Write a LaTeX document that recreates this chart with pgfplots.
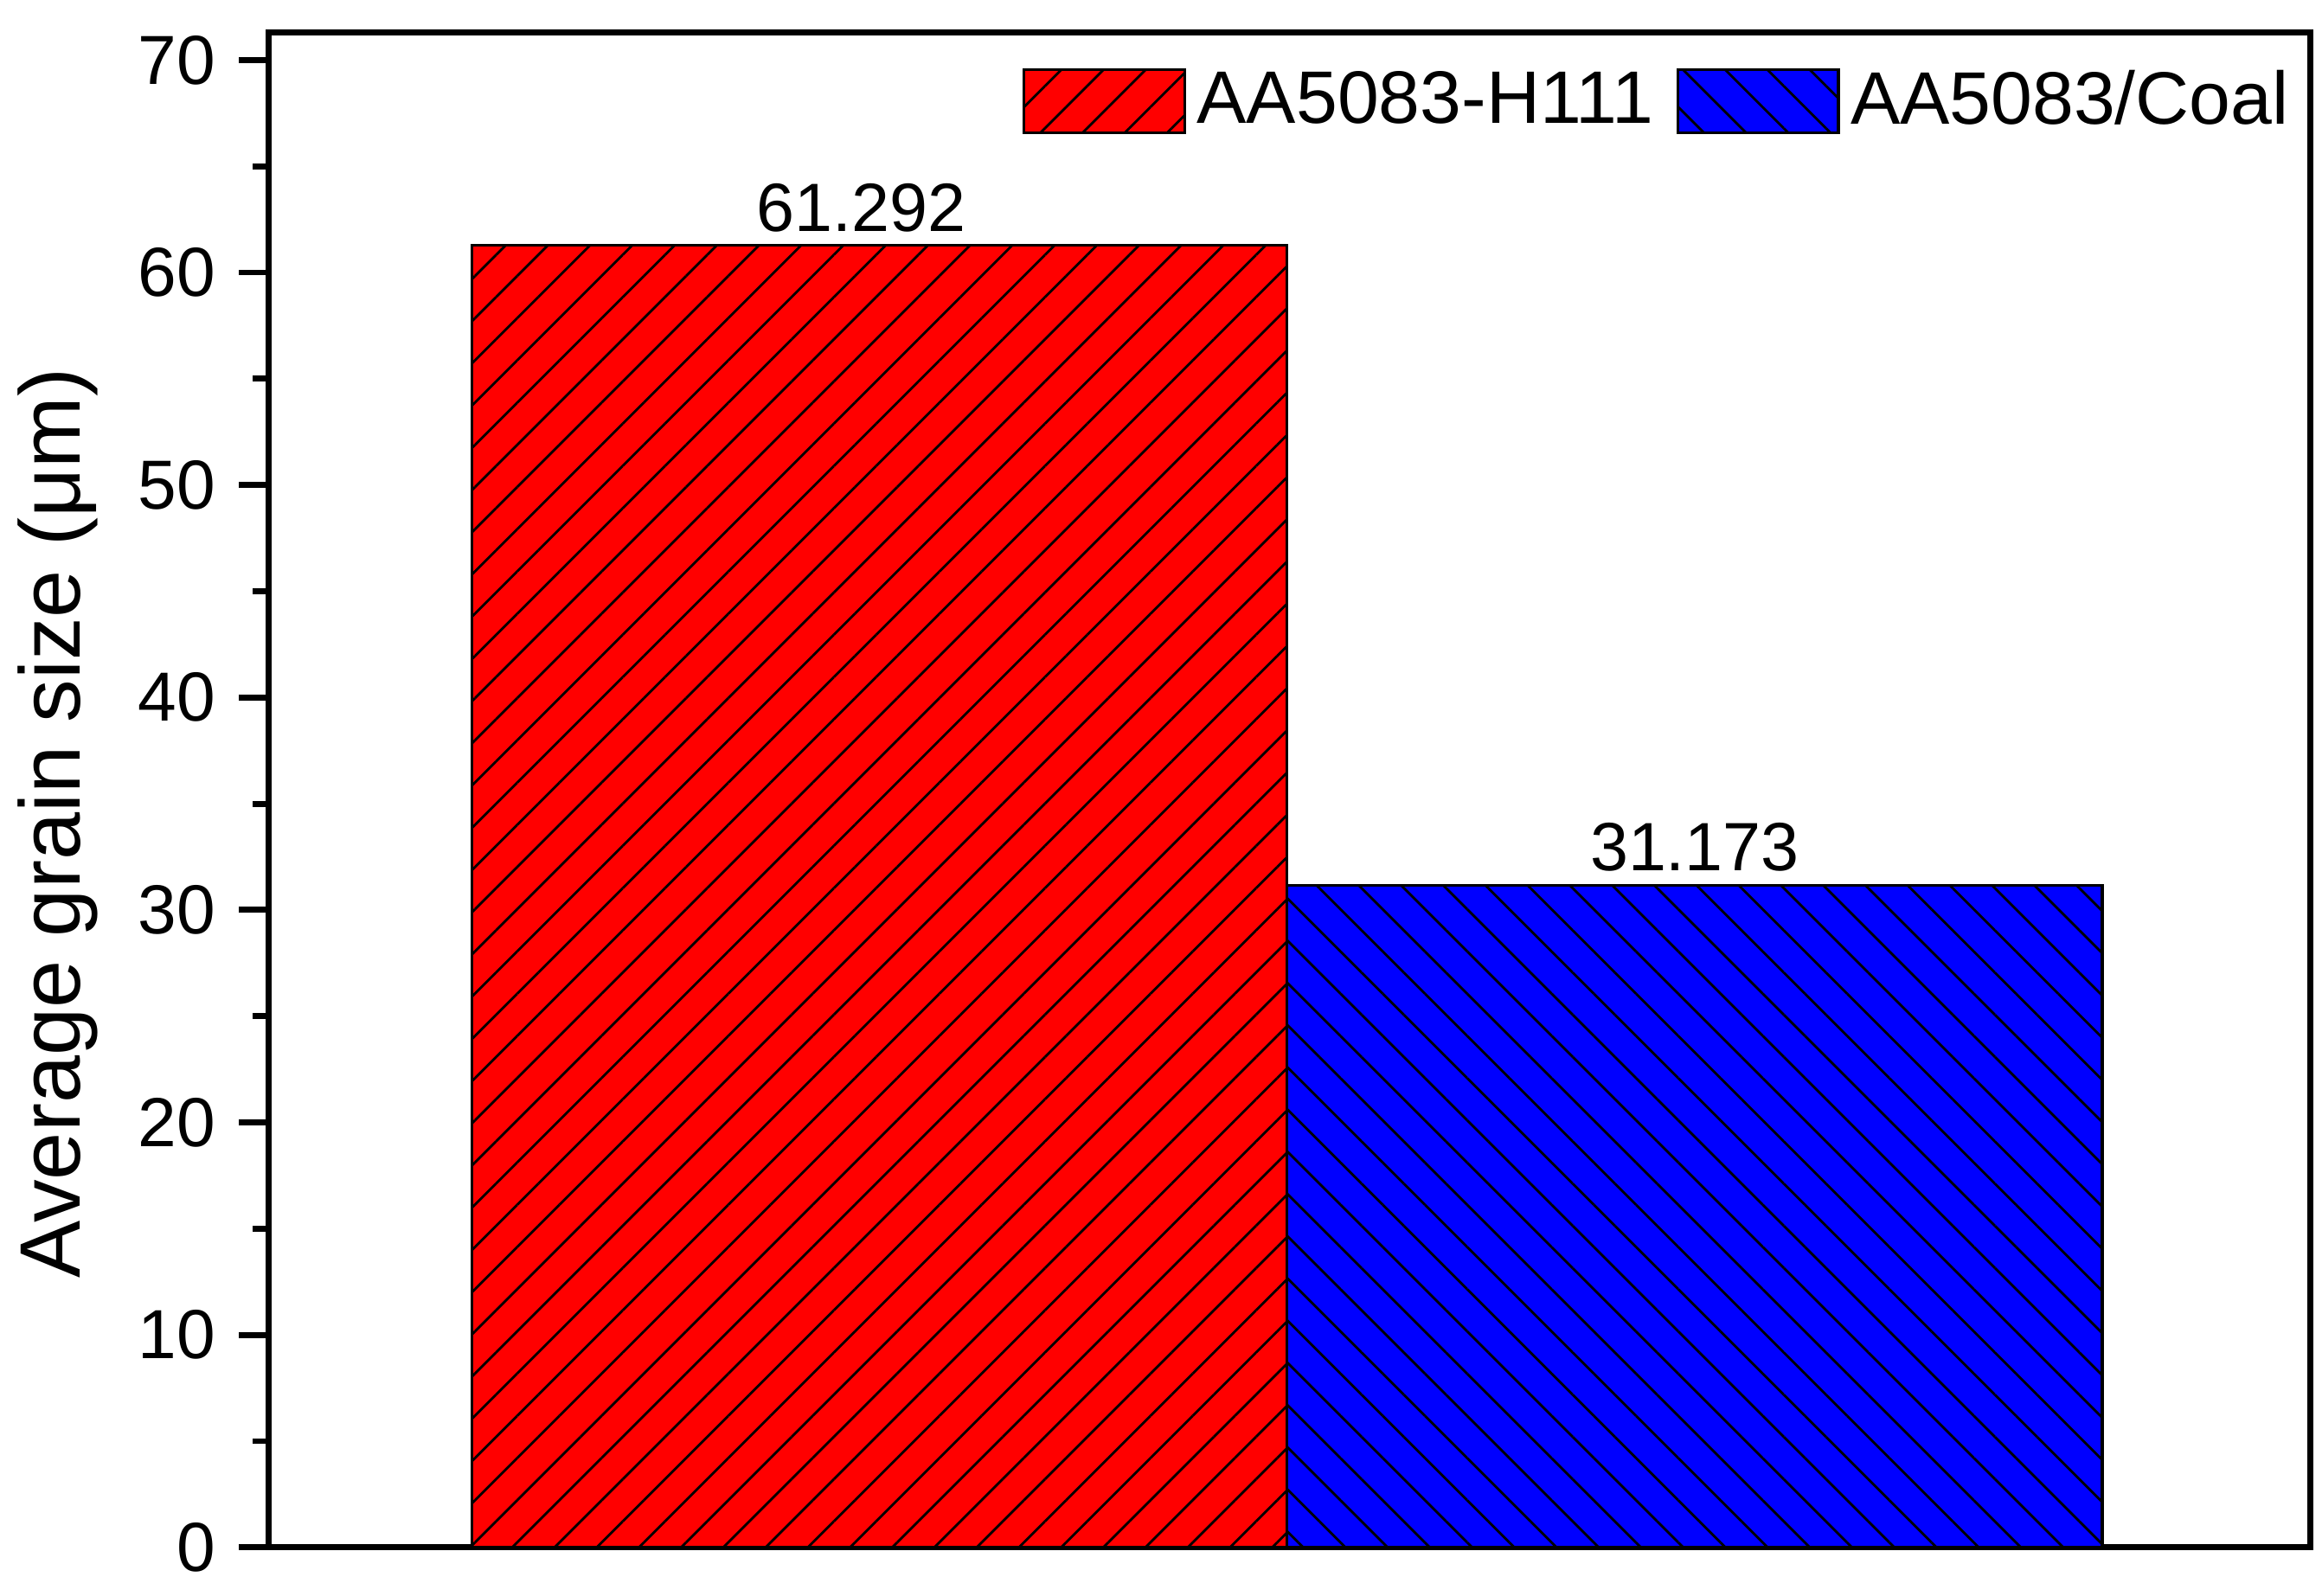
\documentclass[border=0pt]{standalone}
\usepackage{fontspec}
\setmainfont{Liberation Sans}
\usepackage{pgfplots}
\pgfplotsset{compat=1.18}
\usetikzlibrary{patterns.meta}

\begin{document}
\begin{tikzpicture}
\begin{axis}[
  scale only axis, width=13.22cm, height=9.81cm,
  xmin=0.25, xmax=2.755, ymin=0, ymax=71.3,
  xtick=\empty,
  ytick={0,10,...,70}, minor y tick num=1,
  ytick pos=left, tick align=outside,
  major tick length=0.19cm, minor tick length=0.1cm,
  every tick/.style={black, line width=1.1pt},
  axis line style={line width=1.1pt},
  /pgf/number format/assume math mode=true,
  tick label style={font=\fontsize{12.8}{15}\selectfont},
  yticklabel style={xshift=-0.03cm},
  ylabel={Average grain size (μm)},
  ylabel style={font=\fontsize{15.8}{18}\selectfont, at={(axis description cs:-0.103,0.478)}, anchor=center},
  legend style={draw=none, fill=none, font=\fontsize{13.7}{16}\selectfont, legend columns=2,
    at={(axis description cs:0.369,0.983)}, anchor=north west, inner sep=0pt,
    /tikz/every even column/.style={column sep=0.08cm}},
  legend image code/.code={\draw[#1] (0cm,-0.205cm) rectangle (1.04cm,0.205cm);},
  nodes near coords, point meta=explicit symbolic,
  every node near coord/.append style={font=\fontsize{12.6}{15}\selectfont, black, yshift=-0.04cm},
]
\addplot[ybar, bar width=1, bar shift=0pt, fill=red, draw=black, line width=0.5pt,
  postaction={pattern={Lines[angle=45,distance=5.5pt,line width=0.45pt]}},
  every node near coord/.append style={xshift=-0.12cm}]
  coordinates {(1,61.292) [61.292]};
\addplot[ybar, bar width=1, bar shift=0pt, fill=blue, draw=black, line width=0.5pt,
  postaction={pattern={Lines[angle=-45,distance=5.5pt,line width=0.45pt]}}]
  coordinates {(2,31.173) [31.173]};
\legend{AA5083-H111, AA5083/Coal}
\end{axis}
\path ([shift={(-1.70cm,-0.31cm)}]current axis.south west) rectangle ([shift={(0.077cm,0.21cm)}]current axis.north east);
\end{tikzpicture}
\end{document}
